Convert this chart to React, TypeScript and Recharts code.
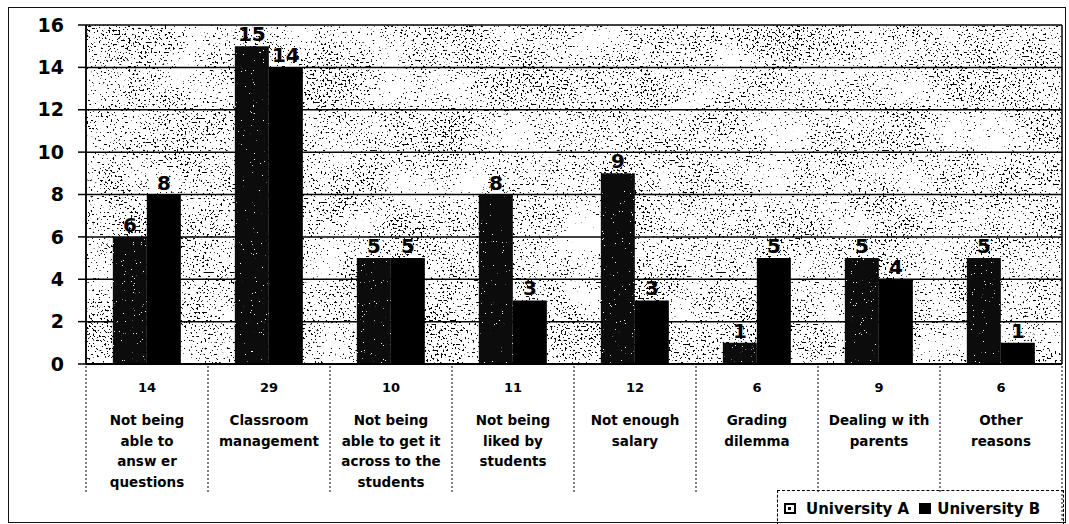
import React from 'react';
import { BarChart, Bar, XAxis, YAxis, CartesianGrid, LabelList, Legend } from 'recharts';

const categories = [
  'Not being able to answ er questions',
  'Classroom management',
  'Not being able to get it across to the students',
  'Not being liked by students',
  'Not enough salary',
  'Grading dilemma',
  'Dealing w ith parents',
  'Other reasons',
];
const categoryLines: string[][] = [
  ['Not being', 'able to', 'answ er', 'questions'],
  ['Classroom', 'management'],
  ['Not being', 'able to get it', 'across to the', 'students'],
  ['Not being', 'liked by', 'students'],
  ['Not enough', 'salary'],
  ['Grading', 'dilemma'],
  ['Dealing w ith', 'parents'],
  ['Other', 'reasons'],
];
const totals = [14, 29, 10, 11, 12, 6, 9, 6];
const universityA = [6, 15, 5, 8, 9, 1, 5, 5];
const universityB = [8, 14, 5, 3, 3, 5, 4, 1];
const yTicks = [0, 2, 4, 6, 8, 10, 12, 14, 16];
const seriesNames = ['University A', 'University B'];

const data = categories.map((name, i) => ({
  name,
  total: totals[i],
  lines: categoryLines[i],
  a: universityA[i],
  b: universityB[i],
}));

const W = 1056;
const H = 514;
const MARGIN = { top: 17, right: 3, left: 27, bottom: 0 };
const Y_WIDTH = 50;
const X_HEIGHT = 158;
const PLOT_LEFT = MARGIN.left + Y_WIDTH;
const PLOT_RIGHT = W - MARGIN.right;
const BAND = (PLOT_RIGHT - PLOT_LEFT) / categories.length;
const FONT = '"DejaVu Sans", Arial, sans-serif';

const XTick = (props: any) => {
  const { x, y, index } = props;
  const d = data[index];
  if (!d) return null;
  const half = BAND / 2;
  return (
    <g>
      <line x1={x - half} x2={x - half} y1={y + 2} y2={y + 128} stroke="#000" strokeWidth={1} strokeDasharray="2 2" />
      {index === data.length - 1 && (
        <line x1={x + half} x2={x + half} y1={y + 2} y2={y + 160} stroke="#000" strokeWidth={1} strokeDasharray="2 2" />
      )}
      <text x={x} y={y + 28} textAnchor="middle" fontSize={13} fontWeight="bold" fontFamily={FONT} fill="#000">
        {d.total}
      </text>
      {d.lines.map((l, k) => (
        <text key={k} x={x} y={y + 61 + k * 20.5} textAnchor="middle" fontSize={13.5} fontWeight="bold" fontFamily={FONT} fill="#000">
          {l}
        </text>
      ))}
    </g>
  );
};

const LegendContent = () => (
  <div
    style={{
      borderTop: '1px dashed #000',
      borderLeft: '1px dashed #000',
      borderRight: '1px dashed #000',
      height: 36,
      boxSizing: 'border-box',
      display: 'flex',
      alignItems: 'center',
      paddingLeft: 6,
      fontFamily: FONT,
      fontWeight: 'bold',
      fontSize: 15,
      color: '#000',
      whiteSpace: 'nowrap',
    }}
  >
    <span style={{ display: 'inline-block', width: 8, height: 7, border: '2px solid #000', background: '#fff', marginRight: 10, position: 'relative' }}>
      <span style={{ position: 'absolute', left: 2, top: 2, width: 3, height: 3, background: '#000' }} />
    </span>
    <span style={{ marginRight: 10 }}>{seriesNames[0]}</span>
    <span style={{ display: 'inline-block', width: 12, height: 11, background: '#000', marginRight: 6 }} />
    <span>{seriesNames[1]}</span>
  </div>
);

export default function App() {
  return (
    <div
      style={{
        position: 'absolute',
        left: 8,
        top: 7,
        width: W,
        height: H,
        border: '1px solid #111',
        background: '#fff',
      }}
    >
      <BarChart
        width={W}
        height={H}
        data={data}
        margin={MARGIN}
        barCategoryGap="22%"
        barGap={0}
      >
        <defs>
          <filter id="stippleF" x="0" y="0" width="100%" height="100%" colorInterpolationFilters="sRGB">
            <feTurbulence type="fractalNoise" baseFrequency="0.5" numOctaves={2} seed={7} result="hi" />
            <feColorMatrix in="hi" type="matrix" values="1 0 0 0 0  1 0 0 0 0  1 0 0 0 0  0 0 0 0 1" result="hiO" />
            <feTurbulence type="fractalNoise" baseFrequency="0.02" numOctaves={2} seed={11} result="lo" />
            <feColorMatrix in="lo" type="matrix" values="1 0 0 0 0  1 0 0 0 0  1 0 0 0 0  0 0 0 0 1" result="loO" />
            <feComposite in="hiO" in2="loO" operator="arithmetic" k1={0} k2={1} k3={0.25} k4={-0.125} result="comb" />
            <feColorMatrix
              in="comb"
              type="matrix"
              values="0 0 0 0 0  0 0 0 0 0  0 0 0 0 0  -30 0 0 0 10.5"
              result="dots"
            />
            <feFlood floodColor="#ffffff" result="white" />
            <feMerge>
              <feMergeNode in="white" />
              <feMergeNode in="dots" />
            </feMerge>
          </filter>
          <filter id="speckF" x="0" y="0" width="100%" height="100%" colorInterpolationFilters="sRGB">
            <feTurbulence type="fractalNoise" baseFrequency="0.9" numOctaves={2} seed={3} result="noise" />
            <feColorMatrix
              in="noise"
              type="matrix"
              values="0 0 0 0 1  0 0 0 0 1  0 0 0 0 1  30 0 0 0 -22.5"
              result="dots"
            />
            <feFlood floodColor="#0c0c0c" result="dark" />
            <feMerge>
              <feMergeNode in="dark" />
              <feMergeNode in="dots" />
            </feMerge>
          </filter>
          <pattern id="bgPat" patternUnits="userSpaceOnUse" width={W} height={H}>
            <rect width={W} height={H} filter="url(#stippleF)" />
          </pattern>
          <pattern id="aPat" patternUnits="userSpaceOnUse" width={W} height={H}>
            <rect width={W} height={H} filter="url(#speckF)" />
          </pattern>
        </defs>
        <CartesianGrid
          horizontal
          vertical
          verticalPoints={[PLOT_LEFT, PLOT_RIGHT]}
          stroke="#000"
          strokeWidth={1.5}
          fill="url(#bgPat)"
          fillOpacity={1}
        />
        <XAxis
          dataKey="name"
          height={X_HEIGHT}
          interval={0}
          tickLine={false}
          tickSize={0}
          tickMargin={0}
          axisLine={{ stroke: '#000', strokeWidth: 2 }}
          tick={<XTick />}
        />
        <YAxis
          width={Y_WIDTH}
          domain={[0, 16]}
          ticks={yTicks}
          interval={0}
          axisLine={{ stroke: '#000', strokeWidth: 1.5 }}
          tickLine={{ stroke: '#000', strokeWidth: 1.5 }}
          tickSize={8}
          tickMargin={14}
          tick={{ fill: '#000', fontSize: 19, fontWeight: 'bold', fontFamily: FONT }}
        />
        <Legend
          layout="horizontal"
          align="center"
          verticalAlign="middle"
          content={<LegendContent />}
          wrapperStyle={{ left: 768, top: 482, width: 287, height: 36 }}
        />
        <Bar dataKey="a" name={seriesNames[0]} fill="url(#aPat)" isAnimationActive={false}>
          <LabelList dataKey="a" position="top" offset={5} fill="#000" fontSize={20} fontWeight="bold" fontFamily={FONT} />
        </Bar>
        <Bar dataKey="b" name={seriesNames[1]} fill="#000" isAnimationActive={false}>
          <LabelList dataKey="b" position="top" offset={5} fill="#000" fontSize={20} fontWeight="bold" fontFamily={FONT} />
        </Bar>
      </BarChart>
    </div>
  );
}
